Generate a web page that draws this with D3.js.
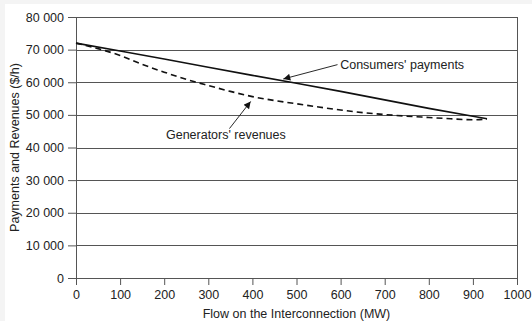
<!DOCTYPE html>
<html>
<head>
<meta charset="utf-8">
<script src="https://cdn.jsdelivr.net/npm/d3@7"></script>
<style>
  body { margin: 0; background: #f4f4f4; }
  svg { display: block; }
  text { font-family: "Liberation Sans", Arial, sans-serif; fill: #222; }
  .axis path, .axis line { stroke: #555; }
</style>
</head>
<body>
<script>
var xTicks = [0, 100, 200, 300, 400, 500, 600, 700, 800, 900, 1000];
var yTicks = [0, 10000, 20000, 30000, 40000, 50000, 60000, 70000, 80000];

var consumerFlow = [0, 100, 200, 300, 400, 500, 600, 700, 800, 900, 932];
var consumerPay  = [72000, 69600, 67100, 64600, 62100, 59700, 57200, 54600, 52000, 49600, 48800];

var genFlow = [0, 50, 100, 150, 200, 250, 300, 350, 400, 450, 500, 550, 600, 650, 700, 750, 800, 850, 900, 932];
var genRev  = [72000, 70300, 68200, 65500, 63100, 60900, 59000, 57200, 55600, 54400, 53400, 52400, 51500, 50700, 50100, 49600, 49200, 48800, 48500, 48700];

var W = 532, H = 321;
var margin = {top: 17, right: 15, bottom: 43, left: 76};
var width = W - margin.left - margin.right;
var height = H - margin.top - margin.bottom;

var svg = d3.select('body').append('svg')
  .attr('width', W)
  .attr('height', H);

// white sheet, light grey strip left and top
svg.append('rect').attr('x', 5).attr('y', 4).attr('width', W - 5).attr('height', H - 4).attr('fill', '#fff');

var defs = svg.append('defs');
defs.append('marker')
  .attr('id', 'arrow')
  .attr('viewBox', '0 0 10 10')
  .attr('refX', 10).attr('refY', 5)
  .attr('markerWidth', 9).attr('markerHeight', 7)
  .attr('markerUnits', 'userSpaceOnUse')
  .attr('orient', 'auto')
  .append('path').attr('d', 'M0,0 L10,5 L0,10 z').attr('fill', '#111');

var main = svg.append('g')
  .attr('transform', 'translate(' + margin.left + ',' + margin.top + ')');

var x = d3.scaleLinear().domain([0, 1000]).range([0, width]);
var y = d3.scaleLinear().domain([0, 80000]).range([height, 0]);

var fmt = function(d) { return d3.format(',')(d).replace(/,/g, ' '); };

// gridlines
main.append('g')
  .selectAll('line')
  .data(yTicks)
  .enter().append('line')
    .attr('x1', 0).attr('x2', width)
    .attr('y1', function(d) { return Math.round(y(d)) + 0.5; })
    .attr('y2', function(d) { return Math.round(y(d)) + 0.5; })
    .attr('stroke', '#555').attr('stroke-width', 1);

// right frame
main.append('line')
  .attr('x1', width + 0.5).attr('x2', width + 0.5)
  .attr('y1', 0).attr('y2', height)
  .attr('stroke', '#555');

var yAxis = d3.axisLeft(y).tickValues(yTicks).tickFormat(fmt).tickSize(8).tickPadding(4);
main.append('g')
  .attr('class', 'axis')
  .call(yAxis)
  .call(function(g) { g.select('.domain').remove(); })
  .selectAll('text').style('font-size', '12.5px').style('fill', '#222');

main.append('line')
  .attr('x1', 0.5).attr('x2', 0.5)
  .attr('y1', 0).attr('y2', height)
  .attr('stroke', '#555');

var xAxis = d3.axisBottom(x).tickValues(xTicks).tickFormat(d3.format('d')).tickSize(7).tickPadding(5);
main.append('g')
  .attr('class', 'axis')
  .attr('transform', 'translate(0,' + height + ')')
  .call(xAxis)
  .call(function(g) { g.select('.domain').remove(); })
  .selectAll('text').style('font-size', '12.5px').style('fill', '#222');

var line = d3.line()
  .x(function(d) { return x(d[0]); })
  .y(function(d) { return y(d[1]); });

main.append('path')
  .datum(consumerFlow.map(function(f, i) { return [f, consumerPay[i]]; }))
  .attr('d', line)
  .attr('fill', 'none')
  .attr('stroke', '#111')
  .attr('stroke-width', 1.6);

main.append('path')
  .datum(genFlow.map(function(f, i) { return [f, genRev[i]]; }))
  .attr('d', d3.line().curve(d3.curveMonotoneX).x(function(d) { return x(d[0]); }).y(function(d) { return y(d[1]); }))
  .attr('fill', 'none')
  .attr('stroke', '#111')
  .attr('stroke-width', 1.6)
  .attr('stroke-dasharray', '6,4');

// annotations
main.append('line')
  .attr('x1', x(593)).attr('y1', y(65400))
  .attr('x2', x(470)).attr('y2', y(61000))
  .attr('stroke', '#111').attr('stroke-width', 0.9)
  .attr('marker-end', 'url(#arrow)');

main.append('text')
  .attr('x', x(599)).attr('y', y(65400))
  .attr('dy', '0.35em')
  .style('font-size', '12.5px')
  .text("Consumers' payments");

main.append('line')
  .attr('x1', x(348)).attr('y1', y(45800))
  .attr('x2', x(396)).attr('y2', y(54100))
  .attr('stroke', '#111').attr('stroke-width', 0.9)
  .attr('marker-end', 'url(#arrow)');

main.append('text')
  .attr('x', x(204)).attr('y', y(44000))
  .attr('dy', '0.35em')
  .style('font-size', '12.5px')
  .text("Generators' revenues");

// axis titles
svg.append('text')
  .attr('transform', 'translate(15,' + (margin.top + height / 2) + ') rotate(-90)')
  .attr('text-anchor', 'middle')
  .attr('dy', '0.35em')
  .style('font-size', '12.5px')
  .text('Payments and Revenues ($/h)');

svg.append('text')
  .attr('x', margin.left + width / 2)
  .attr('y', 313.5)
  .attr('text-anchor', 'middle')
  .attr('dy', '0.35em')
  .style('font-size', '12.5px')
  .text('Flow on the Interconnection (MW)');
</script>
</body>
</html>
